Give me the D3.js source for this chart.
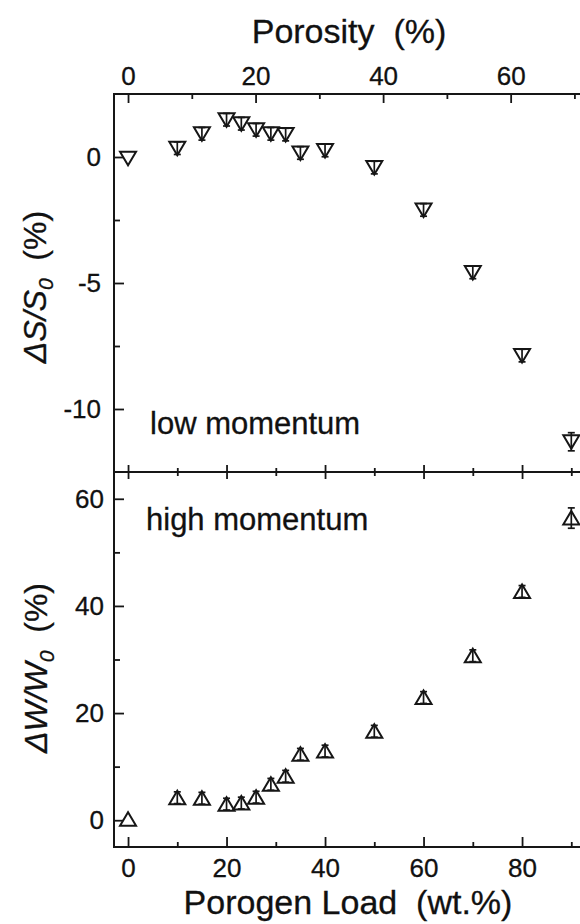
<!DOCTYPE html>
<html>
<head>
<meta charset="utf-8">
<script src="https://cdn.jsdelivr.net/npm/d3@7"></script>
<style>
  body { margin: 0; background: #fff; }
  text { font-family: "Liberation Sans", Arial, sans-serif; fill: #111; stroke: #111; stroke-width: 0.3px; }
</style>
</head>
<body>
<div id="chart"></div>
<script>
// porogen load (wt.%) for both panels
var load = [0, 10, 15, 20, 23, 26, 29, 32, 35, 40, 50, 60, 70, 80, 90];
// low momentum: dS/S0 (%)
var dS    = [-0.05, 0.35, 0.92, 1.48, 1.32, 1.08, 0.92, 0.89, 0.16, 0.26, -0.42, -2.1, -4.58, -7.88, -11.3];
var dSerr = [0, 0.25, 0.25, 0.25, 0.25, 0.25, 0.25, 0.25, 0.25, 0.25, 0.25, 0.25, 0.25, 0.25, 0.36];
// high momentum: dW/W0 (%)
var dW    = [0.2, 4.2, 4.1, 3.0, 3.2, 4.3, 6.7, 8.2, 12.3, 12.9, 16.6, 22.9, 30.7, 42.7, 56.4];
var dWerr = [0, 1.1, 1.1, 1.1, 1.1, 1.1, 1.1, 1.1, 1.1, 1.1, 1.1, 1.1, 1.1, 1.1, 1.9];

var loadMajor = [0, 20, 40, 60, 80], loadMinor = [10, 30, 50, 70, 90];
var porMajor = [0, 20, 40, 60], porMinor = [10, 30, 50, 70];
var sMajor = [-10, -5, 0], sMinor = [-7.5, -2.5];
var wMajor = [0, 20, 40, 60], wMinor = [10, 30, 50];

var W = 580, H = 924;
var pLeft = 114, pRight = 591, pTop = 94, pMid = 472, pBottom = 847;
var ink = "#161616";

var svg = d3.select("#chart").append("svg")
  .attr("width", W).attr("height", H);

var x = d3.scaleLinear().domain([-2.85, 94]).range([pLeft, pRight]);
var xPor = d3.scaleLinear().domain([-2.2, 72.6]).range([pLeft, pRight]);
var yS = d3.scaleLinear().domain([-12.5, 2.5]).range([pMid, pTop]);
var yW = d3.scaleLinear().domain([-5, 65]).range([pBottom, pMid]);

var plain = function (d) { return String(d); }; // hyphen minus like the original

function styleAxis(g) {
  g.select(".domain").remove();
  g.selectAll("line").attr("stroke", ink).attr("stroke-width", 1.8);
  g.selectAll("text").attr("font-size", 26).attr("fill", "#111");
  g.attr("font-family", null).attr("font-size", 26);
}

function addAxis(axis, tx, ty) {
  svg.append("g").attr("transform", "translate(" + tx + "," + ty + ")")
    .call(axis.tickSizeOuter(0)).call(styleAxis);
}

// top porosity axis
addAxis(d3.axisTop(xPor).tickValues(porMajor).tickFormat(plain).tickSize(-9).tickPadding(9), 0, pTop);
addAxis(d3.axisTop(xPor).tickValues(porMinor).tickSize(-5).tickFormat(""), 0, pTop);

// bottom load axis
addAxis(d3.axisBottom(x).tickValues(loadMajor).tickFormat(plain).tickSize(-10).tickPadding(12), 0, pBottom);
addAxis(d3.axisBottom(x).tickValues(loadMinor).tickSize(-5).tickFormat(""), 0, pBottom);

// divider ticks, both directions
addAxis(d3.axisBottom(x).tickValues(loadMajor).tickSize(7).tickFormat(""), 0, pMid);
addAxis(d3.axisTop(x).tickValues(loadMajor).tickSize(7).tickFormat(""), 0, pMid);
addAxis(d3.axisBottom(x).tickValues(loadMinor).tickSize(4).tickFormat(""), 0, pMid);
addAxis(d3.axisTop(x).tickValues(loadMinor).tickSize(4).tickFormat(""), 0, pMid);

// left axes
addAxis(d3.axisLeft(yS).tickValues(sMajor).tickFormat(plain).tickSize(-10).tickPadding(13), pLeft, 0);
addAxis(d3.axisLeft(yS).tickValues(sMinor).tickSize(-6).tickFormat(""), pLeft, 0);
addAxis(d3.axisLeft(yW).tickValues(wMajor).tickFormat(plain).tickSize(-10).tickPadding(10), pLeft, 0);
addAxis(d3.axisLeft(yW).tickValues(wMinor).tickSize(-6).tickFormat(""), pLeft, 0);

// frame
svg.append("rect").attr("x", pLeft).attr("y", pTop)
  .attr("width", pRight - pLeft).attr("height", pBottom - pTop)
  .attr("fill", "none").attr("stroke", ink).attr("stroke-width", 2);
svg.append("line").attr("x1", pLeft).attr("x2", pRight).attr("y1", pMid).attr("y2", pMid)
  .attr("stroke", ink).attr("stroke-width", 2);

// markers
function drawSeries(vals, errs, y, down) {
  var data = load.map(function (l, i) { return { x: l, v: vals[i], e: errs[i] }; });
  var g = svg.append("g").attr("fill", "none").attr("stroke", ink).attr("stroke-width", 2);
  var tri = down ? "M-8,-6.5L8,-6.5L0,7Z" : "M-8,6.5L8,6.5L0,-7Z";
  var pts = g.selectAll("g.pt").data(data).enter().append("g")
    .attr("transform", function (d) { return "translate(" + x(d.x) + "," + y(d.v) + ")"; });
  pts.append("path").attr("d", tri).attr("fill", "#fff");
  var eb = pts.filter(function (d) { return d.e > 0; });
  eb.append("line")
    .attr("x1", 0).attr("x2", 0)
    .attr("y1", function (d) { return y(d.v + d.e) - y(d.v); })
    .attr("y2", function (d) { return y(d.v - d.e) - y(d.v); })
    .attr("stroke-width", 1.7);
  [1, -1].forEach(function (s) {
    eb.append("line")
      .attr("x1", -3.5).attr("x2", 3.5)
      .attr("y1", function (d) { return y(d.v + s * d.e) - y(d.v); })
      .attr("y2", function (d) { return y(d.v + s * d.e) - y(d.v); })
      .attr("stroke-width", 1.7);
  });
}
drawSeries(dS, dSerr, yS, true);
drawSeries(dW, dWerr, yW, false);

// panel labels
svg.append("text").attr("x", 150).attr("y", 434).attr("font-size", 31).text("low momentum");
svg.append("text").attr("x", 146).attr("y", 530).attr("font-size", 31).text("high momentum");

// axis titles
svg.append("text").attr("x", 349).attr("y", 43).attr("text-anchor", "middle")
  .attr("font-size", 34).style("white-space", "pre").text("Porosity  (%)");
svg.append("text").attr("x", 348).attr("y", 914).attr("text-anchor", "middle")
  .attr("font-size", 34).style("white-space", "pre").text("Porogen Load  (wt.%)");

function yTitle(cx, cy, sym) {
  var t = svg.append("text")
    .attr("transform", "translate(" + cx + "," + cy + ") rotate(-90)")
    .attr("text-anchor", "middle").attr("font-size", 32).style("white-space", "pre");
  t.append("tspan").attr("font-style", "italic").text("\u0394" + sym + "/" + sym);
  t.append("tspan").attr("font-style", "italic").attr("font-size", 21).attr("dy", 7).text("0");
  t.append("tspan").attr("dy", -7).text("  (%)");
}
yTitle(46, 287, "S");
yTitle(47, 668, "W");
</script>
</body>
</html>
